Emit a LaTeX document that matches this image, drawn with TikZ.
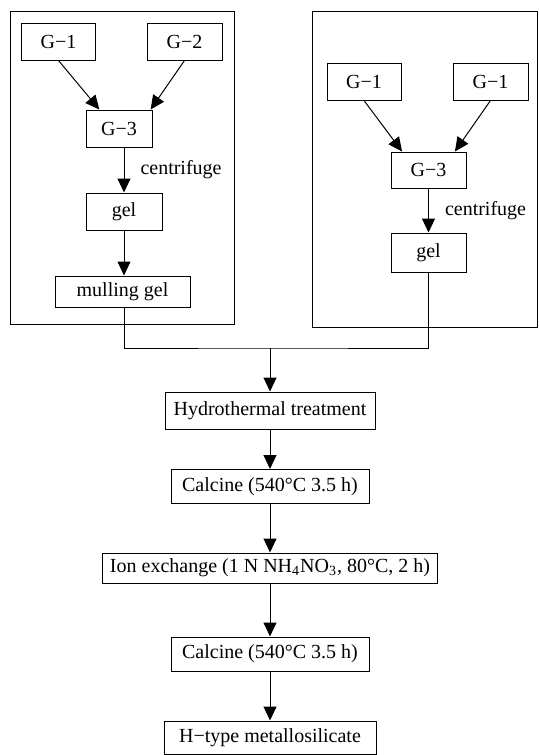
\documentclass[tikz,border=0pt]{standalone}
\usepackage{fontspec}
\setmainfont{Liberation Serif}
\usepackage{tikz}
\usetikzlibrary{arrows.meta}
\tikzstyle{grp}=[shape=rectangle,draw,line width=0.5pt,inner sep=0pt]
\tikzstyle{stp}=[shape=rectangle,draw,line width=0.5pt,inner sep=0pt]
\tikzstyle{tran}=[draw,line width=0.5pt,-{Triangle[length=7pt,width=6.5pt]}]
\tikzstyle{lnk}=[draw,line width=0.5pt]
\tikzstyle{lbl}=[inner sep=8pt]

\begin{document}
\begin{tikzpicture}[x = 0.5pt, y = -0.5pt, font=\fontsize{10}{12}\selectfont]
\useasboundingbox (0,0) rectangle (538,755);

% two preparation routes
\node[grp, minimum width=112pt, minimum height=156.5pt] (lpan) at (122,167.5) {};
\node[grp, minimum width=112.5pt, minimum height=158pt] (rpan) at (424.5,169) {};

\node[stp, minimum width=37pt, minimum height=18.5pt] (lga) at (58.5,41.5) {G−1};
\node[stp, minimum width=37.5pt, minimum height=18.5pt] (lgb) at (184.5,41.5) {G−2};
\node[stp, minimum width=33pt, minimum height=18.5pt] (lgc) at (119,128.5) {G−3};
\node[stp, minimum width=38pt, minimum height=18.5pt] (lgel) at (124,211.5) {gel};
\node[stp, minimum width=67.5pt, minimum height=15.5pt] (mull) at (122.5,291.5) {mulling gel};

\node[stp, minimum width=37pt, minimum height=18.5pt] (rga) at (364,81.5) {G−1};
\node[stp, minimum width=37.5pt, minimum height=18.5pt] (rgb) at (490.5,81.5) {G−1};
\node[stp, minimum width=37.5pt, minimum height=18pt] (rgc) at (428.5,170) {G−3};
\node[stp, minimum width=37.5pt, minimum height=19.5pt] (rgel) at (428.5,252.5) {gel};

\draw[tran] (lga.south) -- (lgc.136);
\draw[tran] (lgb.south) -- (lgc.31);
\draw[tran] (lgc.south-|lgel) -- node[auto, lbl] {centrifuge} (lgel);
\draw[tran] (lgel) -- (lgel|-mull.north);

\draw[tran] (rga.south) -- (rgc.145);
\draw[tran] (rgb.south) -- (rgc.35);
\draw[tran] (rgc.south-|rgel) -- node[auto, lbl] {centrifuge} (rgel);

% common steps
\coordinate (mrg) at (270,348);
\node[stp, minimum width=105pt, minimum height=18.5pt] (hydro) at (270,410.5) {Hydrothermal treatment};
\node[stp, minimum width=99pt, minimum height=17pt] (calc) at (270,486.5) {Calcine (540°C 3.5 h)};
\node[stp, minimum width=167.5pt, minimum height=15pt] (ionx) at (270,568) {Ion exchange (1 N NH\textsubscript{4}NO\textsubscript{3}, 80°C, 2 h)};
\node[stp, minimum width=99pt, minimum height=17pt] (recalc) at (270,654) {Calcine (540°C 3.5 h)};
\node[stp, minimum width=106pt, minimum height=16.5pt] (htype) at (270,737.5) {H−type metallosilicate};

\draw[lnk] (mull.south-|lgel) |- (mrg) -| (rgel);
\draw[tran] (mrg) -- (hydro);
\draw[tran] (hydro) -- (calc);
\draw[tran] (calc) -- (ionx);
\draw[tran] (ionx) -- (recalc);
\draw[tran] (recalc) -- (htype);
\end{tikzpicture}
\end{document}
